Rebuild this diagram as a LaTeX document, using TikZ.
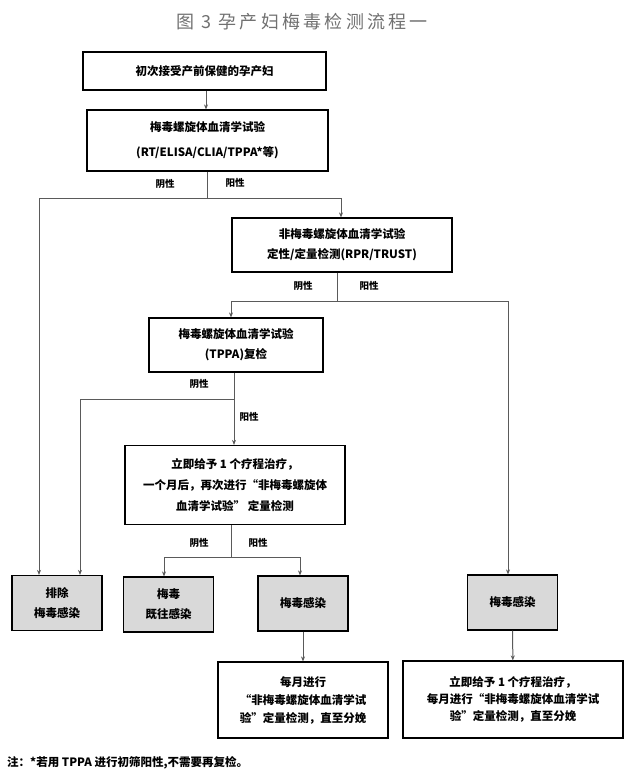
\documentclass[tikz,border=0pt]{standalone}
\usepackage{fontspec}
\setmainfont{Noto Sans CJK SC}
\newfontfamily\titlefont{Noto Sans CJK SC}[LetterSpace=18]
\usepackage{tikz}
\usetikzlibrary{arrows.meta}
\usetikzlibrary{positioning}
\definecolor{linegray}{HTML}{5A5A5A}
\definecolor{resultfill}{HTML}{D9D9D9}
\definecolor{titlegray}{HTML}{707070}
\tikzset {
  % plain connector, no tip
  narr/.style = {
    draw = linegray,
    line width = 1pt
  },
  % connector that ends in a tip
  arr/.style = {
    narr,
    -{Stealth[length=5pt,width=4pt]}
  }
}
\tikzset {
  flow node/.style = {
    draw = black,
    line width = 1.2pt,
    rectangle,
    inner sep = 0,
    align = center,
    font = \fontsize{11.5}{20}\selectfont\bfseries
  },
  % test or action box
  step box/.style = {
    flow node
  },
  % grey outcome box
  outcome/.style = {
    flow node,
    fill = resultfill,
    minimum width = 90pt,
    minimum height = 55pt,
    font = \fontsize{11.5}{20}\selectfont\bfseries
  },
  % yin / yang labels next to a branch
  branch label/.style = {
    inner sep = 0,
    font = \fontsize{9.5}{11}\selectfont\bfseries
  }
}

\begin{document}
\begin{tikzpicture}[x=1pt,y=-1pt]
    \useasboundingbox (0,0) rectangle (636,775);

    \node[text=titlegray, font=\titlefont\fontsize{18}{20}\selectfont] (title) at (302,22) {图 3 孕产妇梅毒检测流程一};

    \node[step box, minimum width=243pt, minimum height=38pt] (start) at (204.5,71) {初次接受产前保健的孕产妇};
    \node[step box, minimum width=241pt, minimum height=61pt, font=\fontsize{11.5}{25}\selectfont\bfseries] (serotest) at (207.5,140.5) {梅毒螺旋体血清学试验\\(RT/ELISA/CLIA/TPPA*等)};
    \node[step box, minimum width=220pt, minimum height=54pt] (nontp) at (342,245) {非梅毒螺旋体血清学试验\\定性/定量检测(RPR/TRUST)};
    \node[step box, minimum width=174pt, minimum height=54pt] (tppa) at (236,345) {梅毒螺旋体血清学试验\\(TPPA)复检};
    \node[step box, minimum width=220pt, minimum height=79pt, font=\fontsize{11.5}{21}\selectfont\bfseries] (treat) at (235,485) {立即给予 1 个疗程治疗，\\一个月后，再次进行“非梅毒螺旋体\\血清学试验” 定量检测};

    \node[outcome] (exclude) at (57,603) {排除\\梅毒感染};
    \node[outcome] (pastInf) at (168.5,604.5) {梅毒\\既往感染};
    \node[outcome] (infMid) at (303,603.5) {梅毒感染};
    \node[outcome] (infRight) at (512.5,602.5) {梅毒感染};

    \node[step box, minimum width=170pt, minimum height=76pt, font=\fontsize{11.5}{18}\selectfont\bfseries] (monthlyMid) at (303,700) {每月进行\\“非梅毒螺旋体血清学试\\验”定量检测，直至分娩};
    \node[step box, minimum width=220pt, minimum height=77pt, font=\fontsize{11.5}{17}\selectfont\bfseries] (monthlyRight) at (513,699.5) {立即给予 1 个疗程治疗，\\每月进行“非梅毒螺旋体血清学试\\验”定量检测，直至分娩};

    % branch points
    \coordinate (j1) at (207,199);
    \coordinate (j2) at (337,301);
    \coordinate (j3) at (234,399);
    \coordinate (j4) at (231,557);

    \draw[arr] ([xshift=1.5pt]start.south) -- ([xshift=1.5pt]start.south |- serotest.north);

    \draw[narr] (serotest.south -| j1) -- (j1);
    \draw[arr] (j1) -| ([xshift=-18pt]exclude.north);
    \draw[arr] (j1) -| ([xshift=-1pt]nontp.north);

    \draw[narr] (nontp.south -| j2) -- (j2);
    \draw[arr] (j2) -| ([xshift=-5pt]tppa.north);
    \draw[arr] (j2) -| ([xshift=-4.5pt]infRight.north);

    \draw[arr] (tppa.south -| j3) -- (j3 |- treat.north);
    \draw[arr] (j3) -| ([xshift=23pt]exclude.north);

    \draw[narr] (treat.south -| j4) -- (j4);
    \draw[arr] (j4) -| ([xshift=-4.5pt]pastInf.north);
    \draw[arr] (j4) -| ([xshift=-3pt]infMid.north);

    \draw[arr] (infMid) -- (monthlyMid);
    \draw[arr] (infRight) -- (monthlyRight);

    \node[branch label] (neg1) at (165,184) {阴性};
    \node[branch label] (pos1) at (235,183) {阳性};
    \node[branch label] (neg2) at (303,286) {阴性};
    \node[branch label] (pos2) at (369,286) {阳性};
    \node[branch label] (neg3) at (199,384) {阴性};
    \node[branch label] (pos3) at (249,417) {阳性};
    \node[branch label] (neg4) at (199,543) {阴性};
    \node[branch label] (pos4) at (258,543) {阳性};

    \node[anchor=west, inner sep=0, font=\fontsize{11.5}{13}\selectfont\bfseries] (note) at (7,763) {注：*若用 TPPA 进行初筛阳性,不需要再复检。};
  \end{tikzpicture}
\end{document}
